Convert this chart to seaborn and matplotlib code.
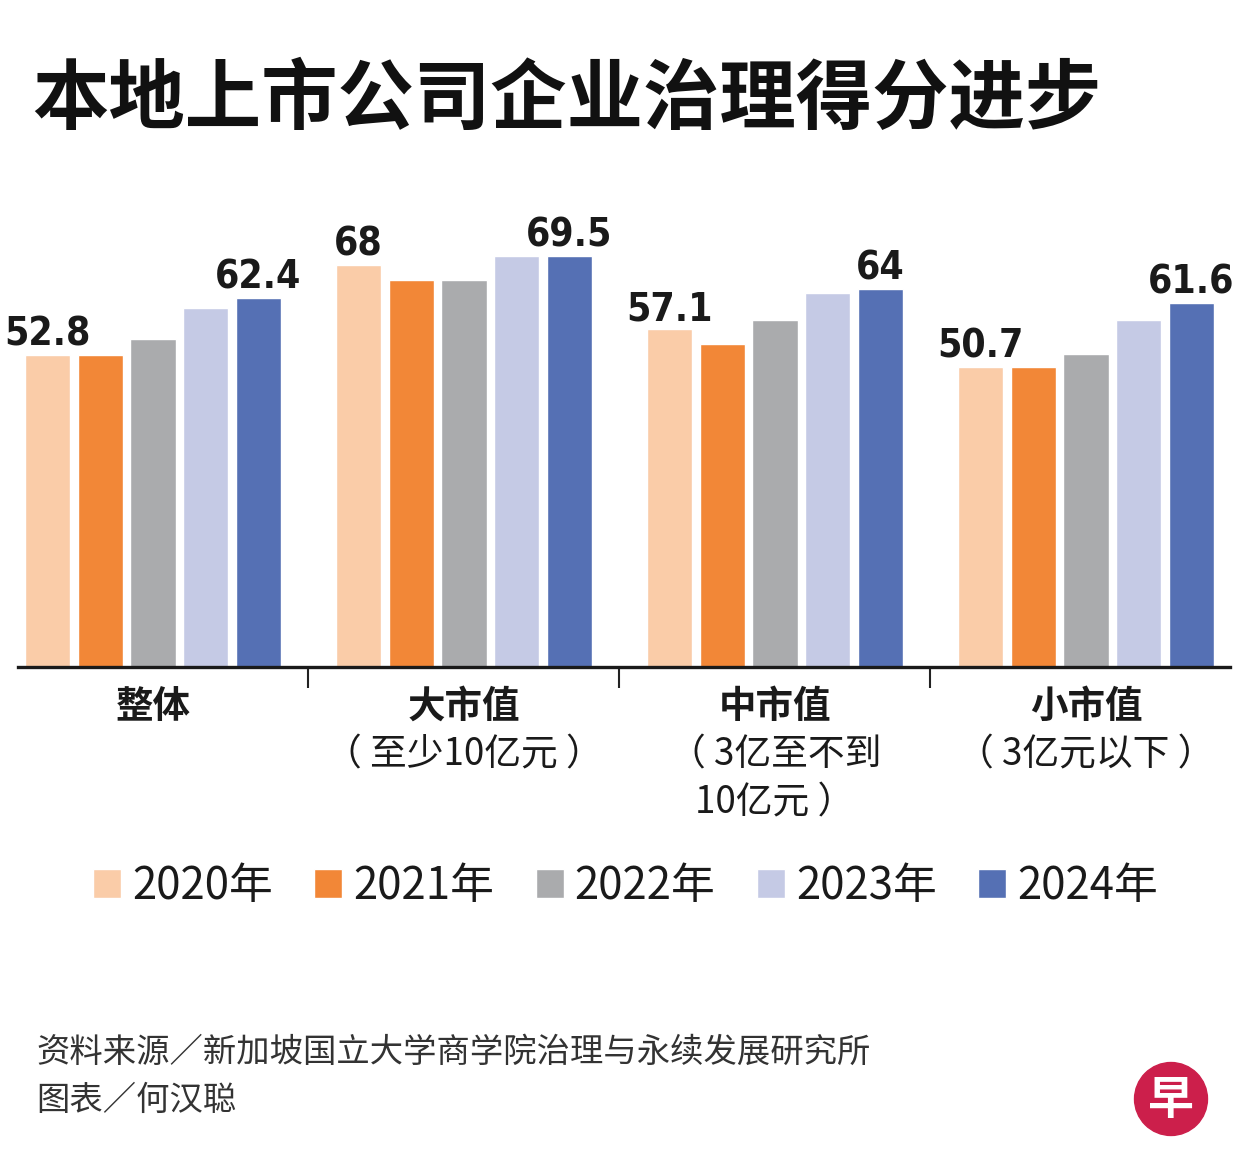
import matplotlib
matplotlib.use('Agg')
import matplotlib.pyplot as plt
import matplotlib.patches as mpatches
import pandas as pd
import seaborn as sns

# data
groups = ['整体', '大市值', '中市值', '小市值']
notes = [[], ['（ 至少10亿元 ）'], ['（ 3亿至不到', '10亿元 ）'], ['（ 3亿元以下 ）']]
years = ['2020年', '2021年', '2022年', '2023年', '2024年']
s2020 = [52.8, 68.0, 57.1, 50.7]
s2021 = [52.8, 65.5, 54.7, 50.7]
s2022 = [55.5, 65.5, 58.7, 53.0]
s2023 = [60.7, 69.5, 63.3, 58.7]
s2024 = [62.4, 69.5, 64.0, 61.6]
colors = ['#facca8', '#f28737', '#aaabad', '#c5cae5', '#5570b4']

rows = []
for y, vals in zip(years, [s2020, s2021, s2022, s2023, s2024]):
    for g, v in zip(groups, vals):
        rows.append({'组别': g, '年份': y, '得分': v})
df = pd.DataFrame(rows)

sns.set_theme(style='white')
plt.rcParams['font.family'] = ['Noto Sans CJK SC', 'DejaVu Sans']

W, H = 1251, 1173
fig = plt.figure(figsize=(W / 100, H / 100), dpi=100)
fig.patch.set_facecolor('white')
ax = fig.add_axes([18 / W, 506 / H, 1212 / W, 473 / H])

sns.barplot(data=df, x='组别', y='得分', hue='年份', palette=colors,
            width=0.847, gap=0.145, saturation=1, ax=ax)

ax.set_xlim(-0.434, 3.463)
ax.set_ylim(0, 80)
ax.set_xlabel('')
ax.set_ylabel('')
ax.set_yticks([])
ax.set_xticks(range(4))
ax.set_xticklabels([''] * 4)
ax.set_xticks([0.5, 1.5, 2.5], minor=True)
ax.tick_params(axis='x', which='major', length=0)
ax.tick_params(axis='x', which='minor', bottom=True, length=15, width=1.5,
               color='#222222', direction='out')
for s in ['left', 'right', 'top']:
    ax.spines[s].set_visible(False)
ax.spines['bottom'].set_color('#1a1a1a')
ax.spines['bottom'].set_linewidth(2.4)

# value labels only on first and last year
for cont, vals in [(ax.containers[0], s2020), (ax.containers[4], s2024)]:
    ax.bar_label(cont, labels=[f'{v:g}' for v in vals], padding=1,
                 fontsize=28, fontweight='bold', fontstretch='condensed',
                 family=['DejaVu Sans', 'Liberation Sans'],
                 color='#1a1a1a')

# category labels
line_y = [-14.9, -23.0]
for i, (g, n) in enumerate(zip(groups, notes)):
    ax.text(i, -6.6, g, ha='center', va='center', fontsize=27,
            fontweight='bold', color='#1a1a1a', clip_on=False)
    for k, line in enumerate(n):
        ax.text(i, line_y[k], line, ha='center', va='center', fontsize=26.5,
                color='#1a1a1a', clip_on=False)

sns.move_legend(ax, 'center', bbox_to_anchor=(0.5, 1 - 886 / H),
                bbox_transform=fig.transFigure, ncol=5, frameon=False,
                title=None, fontsize=31.5, handlelength=0.64, handleheight=0.64,
                handletextpad=0.25, columnspacing=0.95)
for t in ax.get_legend().get_texts():
    t.set_color('#1a1a1a')

fig.text(32 / W, 1 - 100 / H, '本地上市公司企业治理得分进步', fontsize=55,
         fontweight='black', color='#111111', va='center', ha='left')

fig.text(36 / W, 1 - 1052 / H, '资料来源／新加坡国立大学商学院治理与永续发展研究所',
         fontsize=24, color='#333333', va='center', ha='left')
fig.text(36 / W, 1 - 1100 / H, '图表／何汉聪', fontsize=24, color='#333333',
         va='center', ha='left')

# logo
lax = fig.add_axes([1133 / W, (H - 1137) / H, 76 / W, 76 / H])
lax.set_xlim(0, 1)
lax.set_ylim(0, 1)
lax.axis('off')
lax.add_patch(mpatches.Circle((0.5, 0.5), 0.48, color='#cc1f4b'))
lax.text(0.5, 0.47, '早', ha='center', va='center', fontsize=33,
         fontweight='bold', color='white')

fig.savefig('out.png', dpi=100, facecolor='white')
